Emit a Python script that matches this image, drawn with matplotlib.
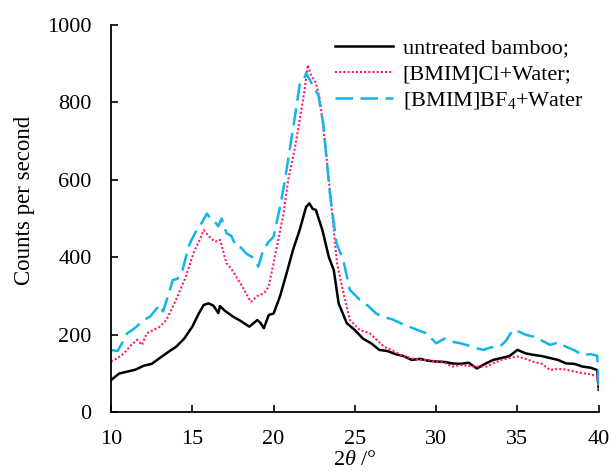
import matplotlib
matplotlib.use("Agg")
import matplotlib.pyplot as plt

# 2theta positions (deg) and intensities
x_raw = [10.0, 10.5, 11.0, 11.5, 12.0, 12.5, 13.0, 13.5, 14.0, 14.5, 15.0, 15.4, 15.7, 16.0, 16.3,
         16.6, 16.7, 17.0, 17.5, 18.0, 18.5, 19.0, 19.2, 19.4, 19.7, 20.0, 20.4, 20.8, 21.2, 21.6,
         22.0, 22.2, 22.4, 22.6, 23.0, 23.4, 23.7, 24.0, 24.5, 25.0, 25.5, 26.0, 26.5, 27.0, 27.5,
         28.0, 28.5, 29.0, 29.5, 30.0, 30.5, 31.0, 31.5, 32.0, 32.5, 33.0, 33.5, 34.0, 34.5, 35.0,
         35.5, 36.0, 36.5, 37.0, 37.5, 38.0, 38.5, 39.0, 39.5, 39.9, 40.0]
raw = [83, 100, 105, 110, 120, 125, 140, 155, 169, 190, 221, 255, 277, 281, 275,
       256, 274, 262, 247, 235, 221, 238, 230, 217, 251, 255, 300, 359, 420, 470,
       530, 539, 525, 522, 470, 400, 367, 281, 230, 212, 190, 178, 161, 158, 150,
       145, 135, 138, 133, 131, 130, 126, 125, 128, 113, 125, 135, 140, 145, 161,
       152, 148, 145, 140, 135, 126, 125, 118, 115, 109, 58]

x_cl = [10.0, 10.4, 10.8, 11.2, 11.6, 11.9, 12.2, 12.6, 13.0, 13.4, 14.0, 14.6, 15.1, 15.4, 15.7,
        16.0, 16.4, 16.7, 17.1, 17.4, 17.7, 18.0, 18.3, 18.6, 19.0, 19.4, 19.7, 20.2, 20.6, 20.9,
        21.3, 21.6, 21.9, 22.1, 22.3, 22.6, 22.85, 23.05, 23.3, 23.5, 23.9, 24.3, 24.7, 25.3, 25.9,
        26.4, 26.8, 27.3, 27.8, 28.4, 29.0, 29.5, 30.0, 30.5, 31.0, 31.5, 32.0, 32.5, 33.1, 33.6,
        34.0, 34.5, 35.0, 35.5, 36.0, 36.5, 37.0, 37.5, 38.0, 38.5, 39.0, 39.5, 39.9, 40.0]
cl = [131, 140, 152, 172, 187, 174, 204, 212, 221, 238, 290, 350, 414, 440, 470,
      455, 440, 445, 385, 370, 350, 330, 307, 285, 300, 307, 324, 427, 510, 600,
      680, 754, 830, 896, 870, 850, 806, 737, 640, 556, 385, 307, 238, 212, 204,
      185, 169, 160, 148, 140, 135, 135, 131, 128, 118, 122, 120, 118, 118, 128,
      135, 140, 144, 138, 130, 125, 109, 112, 110, 105, 101, 98, 92, 58]

x_bf4 = [10.0, 10.4, 10.7, 11.0, 11.4, 11.8, 12.1, 12.4, 12.7, 13.0, 13.2, 13.5, 13.8, 14.1, 14.4,
         14.6, 14.85, 15.2, 15.5, 15.9, 16.1, 16.3, 16.6, 16.8, 17.1, 17.4, 17.7, 18.0, 18.3, 18.7,
         19.06, 19.36, 19.7, 20.0, 20.4, 20.7, 21.0, 21.3, 21.6, 21.8, 22.0, 22.2, 22.44, 22.75, 23.05,
         23.46, 23.87, 24.28, 24.69, 25.3, 25.8, 26.3, 26.8, 27.3, 27.8, 28.4, 29.0, 29.4, 30.0, 30.5,
         31.0, 31.5, 32.0, 32.5, 32.9, 33.4, 33.9, 34.3, 34.7, 35.1, 35.5, 36.0, 36.5, 37.0, 37.5,
         38.0, 38.5, 39.0, 39.5, 39.9, 40.0]
bf4 = [161, 158, 180, 204, 215, 230, 240, 247, 262, 277, 260, 300, 341, 345, 367,
       400, 436, 465, 483, 513, 500, 496, 480, 500, 462, 455, 427, 425, 410, 400,
       376, 419, 440, 453, 531, 600, 680, 760, 845, 850, 875, 860, 840, 819, 746,
       565, 436, 393, 316, 290, 275, 255, 245, 240, 230, 220, 210, 204, 178, 190,
       182, 178, 172, 165, 161, 168, 169, 185, 212, 208, 200, 195, 185, 174, 180,
       169, 160, 148, 150, 146, 70]

labels = ["untreated bamboo;", "[BMIM]Cl+Water;", "[BMIM]BF$_4$+Water"]

plt.rcParams["font.family"] = ["Liberation Serif", "DejaVu Serif"]
plt.rcParams["mathtext.fontset"] = "custom"
plt.rcParams["mathtext.rm"] = "Liberation Serif"
plt.rcParams["mathtext.it"] = "Liberation Serif:italic"

fig = plt.figure(figsize=(6.11, 4.75), dpi=100)
ax = fig.add_axes([0.1817, 0.132, 0.7983, 0.816])

ax.plot(x_raw, raw, color="black", lw=1.8, ls="-", label=labels[0])
ax.plot(x_cl, cl, color="#FF1A6E", lw=1.5, ls=(0, (1, 1)), label=labels[1])
ax.plot(x_bf4, bf4, color="#12B4EC", lw=1.8, ls=(0, (7, 3)), label=labels[2])

ax.set_xlim(10, 40)
ax.set_ylim(0, 1000)
ax.set_xticks(range(10, 41, 5))
ax.set_yticks(range(0, 1001, 200))
ax.tick_params(direction="in", length=5, width=1.2, labelsize=16)
ax.tick_params(axis="x", pad=13)
ax.tick_params(axis="y", pad=14)
for side in ("top", "right"):
    ax.spines[side].set_visible(False)
for side in ("left", "bottom"):
    ax.spines[side].set_linewidth(1.3)

ax.set_xlabel(r"2$\it{\theta}$ /°", fontsize=16, labelpad=1)
ax.set_ylabel("Counts per second", fontsize=16.5)
ax.yaxis.set_label_coords(-0.155, 0.548)

ax.legend(loc="upper left", bbox_to_anchor=(335 / 611, 1 - 38 / 475),
          bbox_transform=fig.transFigure, frameon=False, fontsize=16,
          handlelength=2.6, handletextpad=0.45, labelspacing=0.25,
          borderpad=0, borderaxespad=0)

fig.savefig("out.png", dpi=100)
